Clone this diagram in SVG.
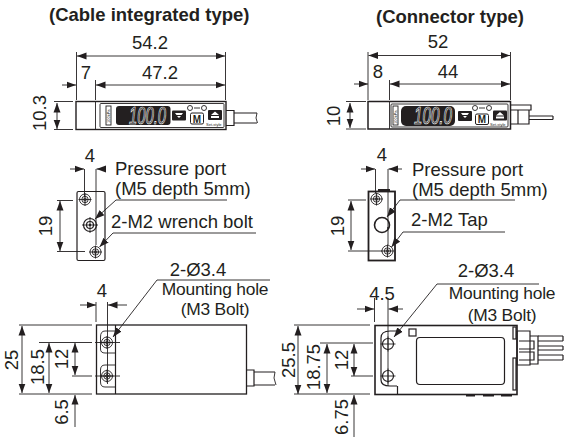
<svg xmlns="http://www.w3.org/2000/svg" width="568" height="440" viewBox="0 0 568 440">
<style>
text{font-family:"Liberation Sans",Arial,sans-serif;fill:#231f20}
.t{font-size:18.500px;text-anchor:middle}
.h{font-size:18.500px;font-weight:bold}
.l{font-size:18.500px}
.m{font-size:17.400px;text-anchor:middle;letter-spacing:-.2px}
.d{fill:none;stroke:#231f20;stroke-width:.9}
.a{marker-end:url(#ar)}
.b{marker-start:url(#ar);marker-end:url(#ar)}
.o{fill:none;stroke:#231f20;stroke-width:1.200}
.k{fill:none;stroke:#231f20;stroke-width:2}
.f{fill:#231f20}
.w{fill:#fff}
.n{font-size:4px;fill:#231f20}
.dg{font-size:23px;font-style:italic;fill:#231f20;stroke:#fff;stroke-width:.7}
</style>
<defs>
<marker id="ar" markerUnits="userSpaceOnUse" markerWidth="10" markerHeight="8" refX="9.500" refY="3.500" orient="auto-start-reverse" viewBox="0 0 10 7"><path d="M0 0L9.500 3.500L0 7Z" fill="#231f20"/></marker>
<g id="hole1"><circle r="5.500" class="d"/><circle r="3.200" class="d"/><circle r="1.400" class="d"/><path class="d" d="M-6.500 0H6.500M0-6.500V6.500"/></g>
<g id="hole2"><circle r="5.500" class="o"/><path class="d" d="M-7.500 0H7.500M0-7.500V7.500"/></g>
</defs>

<g id="title-left"><text class="h" x="49" y="21">(Cable integrated type)</text></g>
<g id="title-right"><text class="h" x="376" y="23">(Connector type)</text></g>

<g id="side-left">
<rect x="76" y="101.500" width="150" height="28" fill="#fff" stroke="#231f20" stroke-width="1.400"/>
<rect x="100" y="103.500" width="124" height="24" rx="1" class="d"/>
<path class="d" d="M95.500 101.500V129.500"/>
<rect x="116" y="106" width="54.500" height="19" rx="3" class="f"/>
<text class="dg" x="129" y="123.500" textLength="37" lengthAdjust="spacingAndGlyphs">100.0</text>
<rect x="172" y="110.500" width="14" height="10" rx="1" class="f"/>
<path class="w" d="M175 113H183L181.500 115H176.500ZM177 116H181L179 118Z"/>
<rect x="190.500" y="113" width="13" height="11" rx="1.500" fill="#fff" stroke="#231f20" stroke-width="1"/>
<text x="197" y="122.500" text-anchor="middle" style="font-size:10px;font-weight:bold">M</text>
<circle cx="190" cy="108" r="2.500" class="d"/><circle cx="204" cy="108" r="2.500" class="d"/><path class="d" d="M194 108H200"/>
<rect x="208" y="110" width="14" height="10" rx="1" class="f"/>
<path class="w" d="M215 111.500L219 115H211ZM211 116H219V118H211Z"/>
<rect x="106" y="106" width="5" height="19" class="d"/>
<text class="n" transform="translate(110 123) rotate(-90)">100kPa</text>
<text class="n" x="206" y="126">Set-style</text>
<path class="o" d="M226 110.500H234V125.500H226M234 113H257M234 123H257"/>
<path class="d" d="M257 113L256 118L257.500 123"/>
</g>

<g id="side-right">
<rect x="368" y="101.500" width="142.500" height="27.500" fill="#fff" stroke="#231f20" stroke-width="1.500"/>
<rect x="391" y="104" width="117" height="23" rx="1" class="d"/>
<path class="d" d="M389.500 101.500V129"/>
<rect x="401" y="106" width="54" height="20" rx="5" class="f"/>
<text class="dg" x="414" y="124" textLength="38" lengthAdjust="spacingAndGlyphs">100.0</text>
<rect x="458" y="111" width="14" height="10" rx="1" class="f"/>
<path class="w" d="M461 113H469L467.500 115H462.500ZM463 116H467L465 118Z"/>
<rect x="475.500" y="114" width="13" height="10.500" rx="1.500" fill="#fff" stroke="#231f20" stroke-width="1"/>
<text x="482" y="123" text-anchor="middle" style="font-size:10px;font-weight:bold">M</text>
<circle cx="475" cy="108" r="2.500" class="d"/><circle cx="489" cy="108" r="2.500" class="d"/><path class="d" d="M479 108H485"/>
<rect x="493" y="110.500" width="14" height="10" rx="1" class="f"/>
<path class="w" d="M500 112L504 115.500H496ZM496 116.500H504V118.500H496Z"/>
<rect x="393" y="106" width="5" height="19" class="d"/>
<text class="n" transform="translate(397 124) rotate(-90)">100kPa</text>
<text class="n" x="490" y="125.500">Set-style</text>
<path class="o" d="M510.500 105H531V110H510.500M518 110V124H510.500M529 110V124H518M529 116H553M529 119.500H553M553 116V119.500"/>
</g>

<g id="port-left">
<rect x="77" y="191.500" width="28" height="69" rx="1.500" fill="#fff" stroke="#231f20" stroke-width="1.200"/>
<use href="#hole1" x="85" y="199.500"/>
<use href="#hole1" x="95.500" y="252"/>
<circle cx="90" cy="225" r="6.500" class="o"/><circle cx="90" cy="225" r="3.500" class="o"/><circle cx="90" cy="225" r="1.200" class="f"/>
<path class="d" d="M82 225H98M90 217V233"/>
</g>

<g id="port-right">
<rect x="368.500" y="191.500" width="26.500" height="69" fill="#fff" stroke="#231f20" stroke-width="1.800"/>
<path class="k" d="M378 190H390"/>
<use href="#hole1" x="376.500" y="199"/>
<use href="#hole1" x="387.500" y="251"/>
<circle cx="382" cy="225" r="7.500" fill="none" stroke="#231f20" stroke-width="1.600"/><circle cx="388" cy="228" r="1" class="f"/>
</g>

<g id="mount-left">
<rect x="96.500" y="325" width="150" height="69" fill="#fff" stroke="#231f20" stroke-width="1.300"/>
<path class="o" d="M115.500 325V394"/>
<path class="d" d="M115.500 331H105Q100.500 331 100.500 337V349Q100.500 353 105 353H115.500M115.500 365H105Q100.500 365 100.500 370V382Q100.500 387 105 387H115.500"/>
<use href="#hole1" x="107" y="342.500"/>
<use href="#hole1" x="107" y="376"/>
<path class="o" d="M246.500 370H254V386H246.500M254 372H275M254 385H275"/>
<path class="d" d="M275 372L274 378L276 385"/>
</g>

<g id="mount-right">
<rect x="375" y="325.500" width="142" height="69" fill="#fff" stroke="#231f20" stroke-width="1.600"/>
<path class="o" d="M397.500 386V394.500"/>
<path class="o" d="M397 331H390Q381 331 381 338V380Q381 386 390 386H397"/>
<rect x="416.500" y="337.500" width="88" height="47" rx="3.500" class="o"/>
<rect x="409" y="329" width="7" height="7" class="o"/>
<rect x="513" y="327" width="3" height="12" class="o"/><rect x="513" y="358" width="3" height="32" class="o"/>
<path class="k" d="M466 395.500H475M483 395.500H494M501 395.500H512"/>
<use href="#hole2" x="388" y="344"/>
<use href="#hole2" x="388" y="376"/>
<path class="o" d="M517 331H530V336H538V364H530V365H517V331M530 336V365M519 341H534V349H519M519 352H534V360H519"/>
<path class="o" d="M538 336H563M538 341H563M538 346H563M538 350H563M538 355H563M538 360H563M563 336V341M563 346V350M563 355V360"/>
</g>

<g id="connectors">
<path class="d" d="M76.500 52V100M225.500 52V100M95.500 80V100"/>
<path class="d b" d="M77 56H225"/><path class="d a" d="M62 85H76"/><path class="d b" d="M96 85H225"/>
<path class="d" d="M54 101.500H73M54 129.500H73"/><path class="d b" d="M57 103V129"/>

<path class="d" d="M368 52V100M510.500 52V100M389.500 80V100"/>
<path class="d b" d="M368.500 55.500H510"/><path class="d a" d="M354 84H368"/><path class="d b" d="M390 84H510"/>
<path class="d" d="M346 101.500H366M346 129H366"/><path class="d b" d="M350 103V128"/>

<path class="d" d="M84.500 169V197M96 169V245"/>
<path class="d a" d="M70 169H84"/><path class="d a" d="M105 169H96.500"/>
<path class="d" d="M57 200.500H73M57 251.500H85"/><path class="d b" d="M60 201V251"/>
<path class="d a" d="M227 200H116L95 219"/>
<path class="d a" d="M256 233H113L99.500 247"/>

<path class="d" d="M375.500 169V193M388 169V245"/>
<path class="d a" d="M361 169H375"/><path class="d a" d="M402 169H388.500"/>
<path class="d" d="M348 200H366M348 251H382"/><path class="d b" d="M351 201V250"/>
<path class="d a" d="M515 200H400L387 217"/>
<path class="d a" d="M505 232H403L391.500 247"/>

<path class="d" d="M96 302V322M107.500 302V384"/>
<path class="d a" d="M80 305H96"/><path class="d a" d="M127 305H108"/>
<path class="d a" d="M270 280H157L113 337"/>
<path class="d" d="M95 342.500H120M95 376H120"/>
<path class="d" d="M19 325H92M19 394H92M39 342.500H92M72 376H92"/>
<path class="d b" d="M22 326V393"/><path class="d b" d="M49 343V393"/><path class="d b" d="M75 343V375"/>
<path class="d a" d="M75 427V395"/>

<path class="d" d="M374.500 298V322M388 298V386"/>
<path class="d a" d="M357 309H374"/><path class="d a" d="M403 309H388.500"/>
<path class="d a" d="M539 284H437L394 337"/>
<path class="d" d="M294 325H370M294 394H370M320 343H373M351 376H373"/>
<path class="d b" d="M298 326V394"/><path class="d b" d="M327 344V393"/><path class="d b" d="M354 344V376"/>
<path class="d a" d="M354 437V395"/>
</g>

<g id="labels">
<text class="t" x="150" y="49">54.2</text><text class="t" x="86" y="79">7</text><text class="t" x="160" y="79">47.2</text>
<text class="t" transform="translate(46 113) rotate(-90)">10.3</text>
<text class="t" x="438" y="48">52</text><text class="t" x="378" y="78">8</text><text class="t" x="448" y="78">44</text>
<text class="t" transform="translate(340 116) rotate(-90)">10</text>
<text class="t" x="90" y="162">4</text>
<text class="t" transform="translate(52 226) rotate(-90)">19</text>
<text class="l" x="115" y="175">Pressure port</text><text class="l" x="115" y="195">(M5 depth 5mm)</text><text class="l" x="111" y="228">2-M2 wrench bolt</text>
<text class="t" x="382" y="161">4</text>
<text class="t" transform="translate(344 226) rotate(-90)">19</text>
<text class="l" x="412" y="176">Pressure port</text><text class="l" x="412" y="196">(M5 depth 5mm)</text><text class="l" x="411" y="226">2-M2 Tap</text>
<text class="t" x="198" y="276">2-Ø3.4</text><text class="m" x="215" y="295">Mounting hole</text><text class="m" x="215" y="315">(M3 Bolt)</text>
<text class="t" x="102" y="297">4</text>
<text class="t" transform="translate(18 360) rotate(-90)">25</text>
<text class="t" transform="translate(44 367) rotate(-90)">18.5</text>
<text class="t" transform="translate(68 359) rotate(-90)">12</text>
<text class="t" transform="translate(68 412) rotate(-90)">6.5</text>
<text class="t" x="486" y="277">2-Ø3.4</text><text class="m" x="502" y="299">Mounting hole</text><text class="m" x="502" y="321">(M3 Bolt)</text>
<text class="t" x="382" y="300">4.5</text>
<text class="t" transform="translate(295 360) rotate(-90)">25.5</text>
<text class="t" transform="translate(320 367) rotate(-90)">18.75</text>
<text class="t" transform="translate(348 360) rotate(-90)">12</text>
<text class="t" transform="translate(348 417) rotate(-90)">6.75</text>
</g>
</svg>
